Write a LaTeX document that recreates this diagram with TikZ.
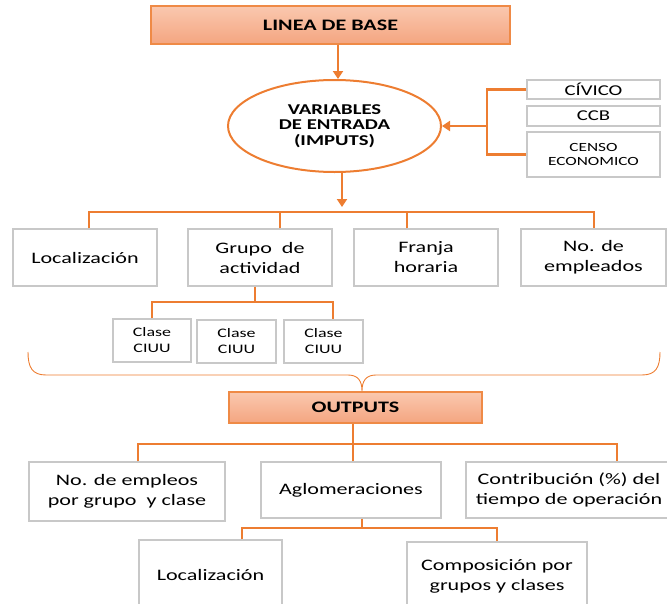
\documentclass[tikz,border=0pt]{standalone}
\usepackage{fontspec}
\setmainfont{Carlito}[FakeStretch=1.38]
\usetikzlibrary{arrows.meta,shapes.geometric}
\definecolor{accentorange}{RGB}{237,125,49}
\definecolor{boxgray}{RGB}{200,200,200}
\definecolor{salmontop}{RGB}{250,200,175}
\definecolor{salmonbot}{RGB}{244,165,128}

\tikzset{
  link/.style={accentorange, line width=2.6pt},
  tipped/.style={-{Triangle[length=8pt,width=10pt]}},
  headbox/.style={draw=accentorange!90, line width=1.3pt, top color=salmontop,
    bottom color=salmonbot, inner sep=0pt,
    font=\bfseries\fontsize{16}{18}\selectfont},
  itembox/.style={draw=boxgray, line width=1.3pt, fill=white, align=center,
    inner sep=0pt, font=\fontsize{16}{20}\selectfont},
  smallbox/.style={itembox, font=\fontsize{13}{16}\selectfont},
  brc/.style={accentorange, line width=0.9pt}
}

\begin{document}
\begin{tikzpicture}[x=1pt,y=-1pt]
    \useasboundingbox (0,0) rectangle (667,603);

    % Linea de base y variables de entrada
    \node[headbox, minimum width=359, minimum height=38] (base) at (330.5,25) {LINEA DE BASE};
    \node[ellipse, draw=accentorange, line width=2pt, minimum width=213, minimum height=92,
          inner sep=0pt, align=center, font=\bfseries\fontsize{15}{15.5}\selectfont]
          (vars) at (334.5,126) {VARIABLES\\DE ENTRADA\\(IMPUTS)};

    % Fuentes
    \node[itembox, minimum width=133, minimum height=19, font=\fontsize{15}{18}\selectfont] (civico) at (593.5,89.5) {CÍVICO};
    \node[itembox, minimum width=133, minimum height=20, font=\fontsize{15}{18}\selectfont] (ccb) at (593.5,116) {CCB};
    \node[itembox, minimum width=133, minimum height=45, font=\fontsize{12.5}{14}\selectfont] (censo) at (593.5,154.5) {CENSO\\ECONOMICO};

    % Variables
    \node[itembox, minimum width=144, minimum height=57] (loca) at (85,257.5) {Localización};
    \node[itembox, minimum width=144, minimum height=57] (grupo) at (260,257.5) {Grupo~ de\\actividad};
    \node[itembox, minimum width=144, minimum height=57] (franja) at (426,257.5) {Franja\\horaria};
    \node[itembox, minimum width=145, minimum height=57] (empl) at (593.5,257.5) {No. de\\empleados};

    \node[smallbox, minimum width=78, minimum height=43] (clase1) at (152,340.5) {Clase\\CIUU};
    \node[smallbox, minimum width=79, minimum height=43] (clase2) at (236.5,341.5) {Clase\\CIUU};
    \node[smallbox, minimum width=79, minimum height=43] (clase3) at (323.5,341.5) {Clase\\CIUU};

    % Outputs
    \node[headbox, minimum width=253, minimum height=31] (outs) at (355.5,407.5) {OUTPUTS};
    \node[itembox, minimum width=196, minimum height=59] (empleos) at (127,491.5) {No. de empleos\\por grupo~ y clase};
    \node[itembox, minimum width=180, minimum height=56] (aglo) at (351,490) {Aglomeraciones};
    \node[itembox, minimum width=206, minimum height=56] (contrib) at (569,490) {Contribución (\%) del\\tiempo de operación};
    \node[itembox, minimum width=143, minimum height=70] (locb) at (210.5,575) {Localización};
    \node[itembox, minimum width=180, minimum height=68] (compos) at (497,576) {Composición por\\grupos y clases};

    % Buses
    \coordinate (srcbus) at (487,126);
    \coordinate (inarr) at (342,207);
    \coordinate (inbus) at (342,212);
    \coordinate (clbus) at (255,302);
    \coordinate (brL) at (28,352);
    \coordinate (brR) at (660,352);
    \coordinate (brtip) at (362,391);
    \coordinate (outbus) at (353,444);
    \coordinate (aglobus) at (362,528);

    % Conectores
    \draw[link, tipped] ([xshift=3.5pt]vars.north |- base.south) -- ([xshift=3.5pt]vars.north);
    \draw[link] (civico.west) -| (srcbus) |- (censo.west);
    \draw[link, tipped] (srcbus) -- (vars.east);
    \draw[link, tipped] (vars.south -| inarr) -- (inarr);
    \draw[link] ([xshift=4pt]loca.north) |- (inbus) -| ([xshift=0.5pt]empl.north);
    \draw[link] ([xshift=20pt]grupo.north) -- ([xshift=20pt]grupo.north |- inbus);
    \draw[link] ([xshift=-19pt]franja.north) -- ([xshift=-19pt]franja.north |- inbus);
    \draw[link] (grupo.south -| clbus) -- (clbus);
    \draw[link] (clase1.north) |- (clbus) -| ([xshift=9.5pt]clase3.north);

    % Llave
    \draw[brc] (brL) .. controls (28,367) and (32,375) .. (46,375) -- (348,375)
        .. controls (358,375) and (362,381) .. (brtip)
        .. controls (362,381) and (366,375) .. (376,375) -- (642,375)
        .. controls (656,375) and (660,367) .. (brR);

    \draw[link] (outs.south -| outbus) -- (outbus);
    \draw[link] ([xshift=11pt]empleos.north) |- (outbus) -| ([xshift=48pt]contrib.north);
    \draw[link] (aglo.north -| outbus) -- (outbus);
    \draw[link] (aglo.south -| aglobus) -- (aglobus);
    \draw[link] ([xshift=31.5pt]locb.north) |- (aglobus) -| (compos.north);
\end{tikzpicture}
\end{document}
